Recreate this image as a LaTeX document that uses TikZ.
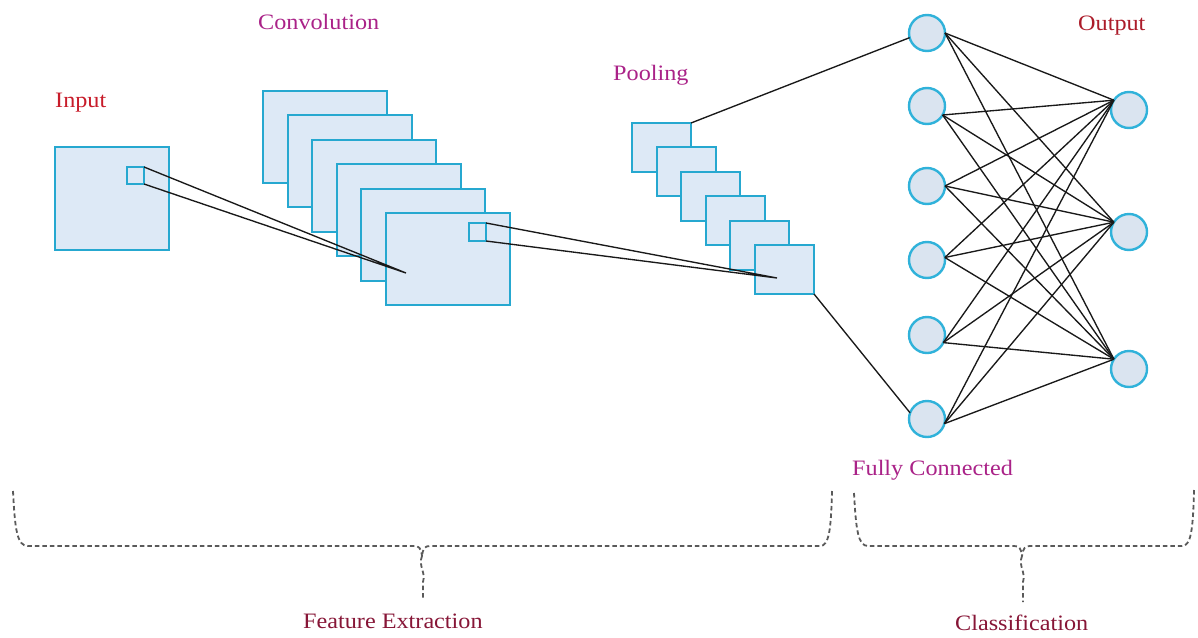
\documentclass[tikz,border=0pt]{standalone}
\usepackage{fontspec}
\setmainfont{Liberation Serif}
\definecolor{boxfill}{RGB}{221,233,246}
\definecolor{boxline}{RGB}{38,168,208}
\definecolor{circfill}{RGB}{218,228,240}
\definecolor{circline}{RGB}{48,178,218}
\definecolor{lblmag}{RGB}{170,34,136}
\definecolor{lblred}{RGB}{200,28,42}
\definecolor{lblout}{RGB}{172,28,42}
\definecolor{lblbot}{RGB}{135,22,55}
\definecolor{bracegray}{RGB}{90,90,90}
\definecolor{wirecol}{RGB}{25,25,25}
\newcommand{\wlbl}[1]{\scalebox{1.1}[1]{#1}}
\begin{document}
\begin{tikzpicture}[x=1pt,y=-1pt,
  fmap/.style={draw=boxline, fill=boxfill, line width=2.3pt, rectangle, inner sep=0pt, outer sep=0pt, anchor=north west},
  neuron/.style={draw=circline, fill=circfill, line width=2.4pt, circle, inner sep=0pt, outer sep=0pt, minimum size=36pt},
  wire/.style={draw=wirecol, line width=1.35pt},
  lbl/.style={anchor=base west, inner sep=0pt, font=\fontsize{22}{26}\selectfont},
  bracket/.style={draw=bracegray, line width=1.8pt, dash pattern=on 4.5pt off 3pt}]
\fill[white] (0,0) rectangle (1198,637);
\useasboundingbox (0,0) rectangle (1198,637);

% input
\node[fmap, minimum width=114pt, minimum height=103pt] (inp) at (55,147) {};
\node[fmap, line width=2pt, minimum width=17pt, minimum height=17pt] (ins) at (127,167) {};

% convolution stack
\foreach \i/\x/\y in {0/263/91,1/288/115,2/312/140,3/337/164,4/361/189,5/386/213}
  \node[fmap, minimum width=124pt, minimum height=92pt] (c\i) at (\x,\y) {};
\node[fmap, line width=2pt, minimum width=17pt, minimum height=18pt] (cs) at (469,223) {};

% pooling stack
\foreach \i/\x/\y in {0/632/123,1/657/147,2/681/172,3/706/196,4/730/221,5/755/245}
  \node[fmap, minimum width=59pt, minimum height=49pt] (p\i) at (\x,\y) {};

% neurons
\foreach \i/\y in {1/33,2/106,3/186,4/260,5/335,6/419}
  \node[neuron] (f\i) at (927,\y) {};
\foreach \j/\y in {1/110,2/232,3/369}
  \node[neuron] (o\j) at (1129,\y) {};

% receptive field wires
\coordinate (t1) at (406,273);
\coordinate (t2) at (777,278);
\draw[wire] (ins.north east) -- (t1) -- (ins.south east);
\draw[wire] (cs.north east) -- (t2) -- (cs.south east);

% pooling to fully connected
\draw[wire] (p0.north east) -- (f1.195);
\draw[wire] (p5.south east) -- (f6.160);

% fully connected to output
\foreach \i/\a in {1/0,2/-30,3/0,4/8,5/-25,6/-15}
  \foreach \j in {1,2,3}
    \draw[wire] (f\i.\a) -- (o\j.147);

% labels
\node[lbl, text=lblred] (tin) at (55,107) {\wlbl{Input}};
\node[lbl, text=lblmag] (tconv) at (258,29) {\wlbl{Convolution}};
\node[lbl, text=lblmag] (tpool) at (613,80) {\wlbl{Pooling}};
\node[lbl, text=lblout] (tout) at (1078,30) {\wlbl{Output}};
\node[lbl, text=lblmag] (tfc) at (852,475) {\wlbl{Fully Connected}};
\node[lbl, text=lblbot] (tfe) at (303,628) {\wlbl{Feature Extraction}};
\node[lbl, text=lblbot] (tcl) at (955,630) {\wlbl{Classification}};

% braces
\draw[bracket] (13,491) .. controls (15,530) and (17,546) .. (28,546) -- (414,546) .. controls (419,546) and (421,548) .. (422,556);
\draw[bracket] (832,491) .. controls (831,530) and (829,546) .. (820,546) -- (430,546) .. controls (425,546) and (423,548) .. (422,556);
\draw[bracket] (422,556) .. controls (418,566) and (426,572) .. (423,582) -- (423,598);

\draw[bracket] (854,493) .. controls (856,530) and (858,546) .. (868,546) -- (1014,546) .. controls (1019,546) and (1021,548) .. (1022,556);
\draw[bracket] (1194,490) .. controls (1193,530) and (1191,546) .. (1182,546) -- (1030,546) .. controls (1025,546) and (1023,548) .. (1022,556);
\draw[bracket] (1022,556) .. controls (1018,566) and (1026,572) .. (1023,582) -- (1023,602);
\end{tikzpicture}
\end{document}
